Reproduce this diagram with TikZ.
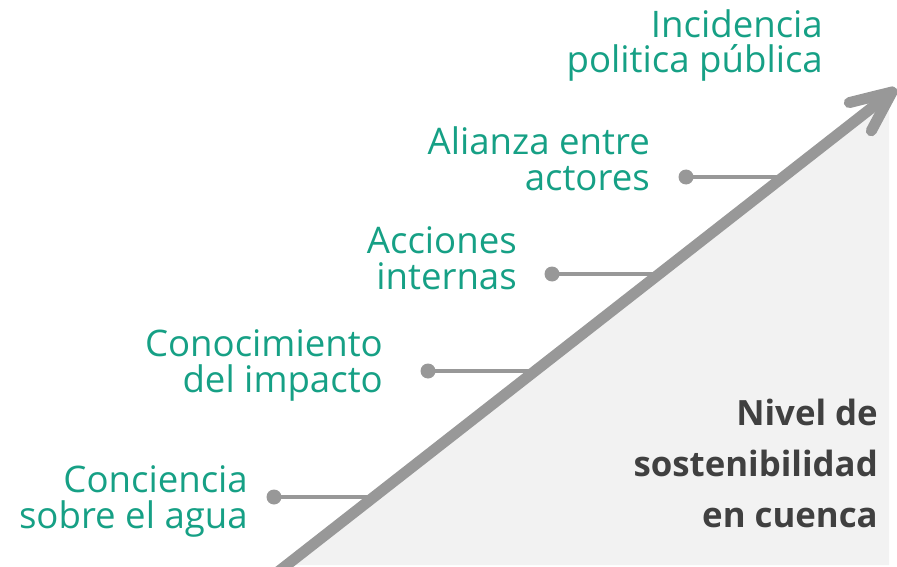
\documentclass[tikz,border=0pt]{standalone}
\usepackage{fontspec}
\setmainfont{Open Sans}
\definecolor{teal}{HTML}{16A085}
\definecolor{arrowgrey}{HTML}{989898}
\definecolor{trifill}{HTML}{F2F2F2}
\definecolor{darktext}{HTML}{404040}
\tikzset{
  label/.style={anchor=base east, inner sep=0pt, align=right, text=teal,
    font=\fontsize{36.6}{35.5}\selectfont},
  dotnode/.style={circle, fill=arrowgrey, minimum size=15pt, inner sep=0pt},
  branch/.style={draw=arrowgrey, line width=4pt},
  mainarrow/.style={draw=arrowgrey, line width=11pt, line cap=round, line join=round},
}
\begin{document}
\begin{tikzpicture}[x=1pt,y=-1pt]
\useasboundingbox (0,0) rectangle (897,567);
\clip (0,0) rectangle (897,567);
% triangle
\fill[trifill] (287,565) -- (889,565) -- (889,94.3) -- cycle;
% arrow geometry
\coordinate (start) at (274,575);
\coordinate (tip) at (892,92);
\coordinate (barbA) at (849.3,102.6);
\coordinate (barbB) at (871.3,130.8);
% points where branches meet the arrow
\coordinate (m1) at (373.9,497);
\coordinate (m2) at (534.4,371);
\coordinate (m3) at (658.2,274);
\coordinate (m4) at (782.3,177);
% dots
\node[dotnode] (d1) at (274,497) {};
\node[dotnode] (d2) at (428,371) {};
\node[dotnode] (d3) at (552,274) {};
\node[dotnode] (d4) at (686,177) {};
% branches
\draw[branch] (d1.center) -- (m1);
\draw[branch] (d2.center) -- (m2);
\draw[branch] (d3.center) -- (m3);
\draw[branch] (d4.center) -- (m4);
% main arrow
\draw[mainarrow] (start) -- (tip);
\draw[mainarrow] (barbA) -- (tip) -- (barbB);
% labels (anchor = baseline of last line)
\node[label] (l1) at (248,528) {Conciencia\\sobre el agua};
\node[label] (l2) at (383,392) {Conocimiento\\del impacto};
\node[label] (l3) at (517,289) {Acciones\\internas};
\node[label] (l4) at (650,190) {Alianza entre\\actores};
\node[label] (l5) at (823,73) {Incidencia\\politica pública};
\node[anchor=base east, inner sep=0pt, align=right, text=darktext,
  font=\fontsize{34.8}{51}\selectfont\bfseries] (lvl) at (878,527)
  {Nivel de\\sostenibilidad\\en cuenca};
\end{tikzpicture}
\end{document}
